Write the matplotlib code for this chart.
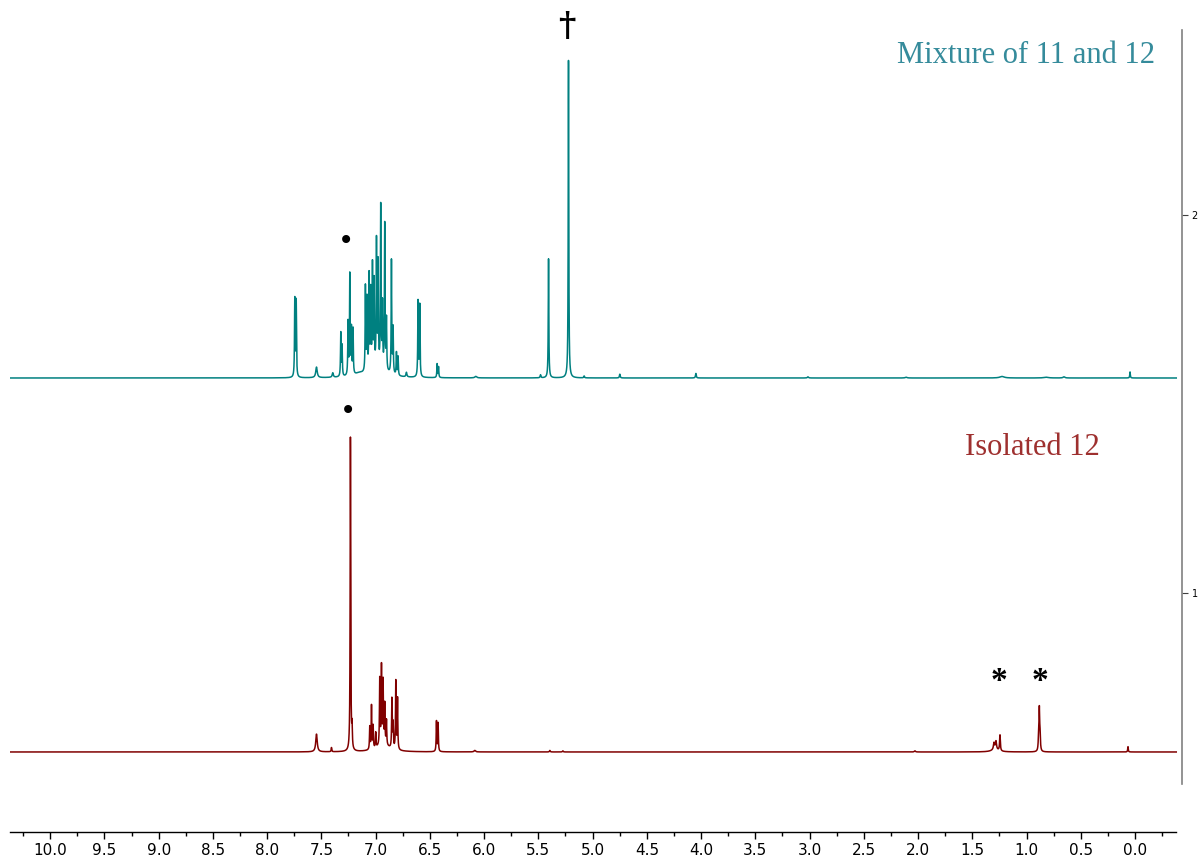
import numpy as np
import matplotlib
matplotlib.use("Agg")
import matplotlib.pyplot as plt
from matplotlib.ticker import MultipleLocator, FormatStrFormatter

# peak lists: chemical shift (ppm), height, half width (ppm)
mix_shift = [7.745, 7.732, 7.545, 7.395, 7.321, 7.309, 7.254, 7.238, 7.223, 7.208,
             7.094, 7.079, 7.060, 7.045, 7.029, 7.014, 6.992, 6.977, 6.953, 6.937,
             6.916, 6.900, 6.854, 6.839, 6.808, 6.793, 6.716, 6.609, 6.593, 6.433,
             6.420, 6.077, 5.480, 5.406, 5.222, 5.078, 4.749, 4.048, 3.015, 2.110,
             1.226, 0.820, 0.655, 0.046, 6.980, 7.150]
mix_height = [0.205, 0.200, 0.028, 0.012, 0.115, 0.080, 0.140, 0.265, 0.120, 0.120,
              0.225, 0.190, 0.250, 0.205, 0.270, 0.225, 0.330, 0.270, 0.425, 0.165,
              0.385, 0.135, 0.300, 0.120, 0.060, 0.050, 0.012, 0.200, 0.190, 0.036,
              0.028, 0.004, 0.008, 0.315, 0.840, 0.005, 0.010, 0.012, 0.003, 0.002,
              0.004, 0.002, 0.003, 0.016, 0.025, 0.008]
mix_width = [0.003, 0.003, 0.008, 0.006, 0.003, 0.003, 0.003, 0.003, 0.003, 0.003,
             0.003, 0.003, 0.003, 0.003, 0.003, 0.003, 0.003, 0.003, 0.003, 0.003,
             0.003, 0.003, 0.003, 0.003, 0.003, 0.003, 0.005, 0.003, 0.003, 0.003,
             0.003, 0.010, 0.004, 0.003, 0.003, 0.004, 0.004, 0.004, 0.006, 0.010,
             0.025, 0.025, 0.010, 0.003, 0.080, 0.050]

iso_shift = [7.545, 7.407, 7.232, 7.217, 7.054, 7.038, 7.023, 6.999, 6.962, 6.946,
             6.931, 6.916, 6.900, 6.850, 6.839, 6.814, 6.798, 6.439, 6.424, 6.086,
             5.394, 5.274, 2.029, 1.300, 1.282, 1.245, 0.888, 0.882, 0.876, 0.065,
             6.930, 1.290]
iso_height = [0.047, 0.011, 0.830, 0.055, 0.060, 0.115, 0.060, 0.040, 0.175, 0.205,
              0.165, 0.105, 0.065, 0.130, 0.065, 0.180, 0.135, 0.080, 0.075, 0.004,
              0.004, 0.003, 0.003, 0.018, 0.022, 0.042, 0.045, 0.095, 0.045, 0.014,
              0.018, 0.006]
iso_width = [0.008, 0.003, 0.003, 0.003, 0.003, 0.003, 0.003, 0.003, 0.003, 0.003,
             0.003, 0.003, 0.003, 0.003, 0.003, 0.003, 0.003, 0.003, 0.003, 0.008,
             0.004, 0.004, 0.006, 0.006, 0.006, 0.004, 0.004, 0.003, 0.004, 0.003,
             0.070, 0.040]

# vertical offsets of the two traces
mix_offset = 1.5688
iso_offset = 0.5794

ppm = np.linspace(10.37, -0.38, 80000)


def spectrum(shifts, heights, widths):
    y = np.zeros_like(ppm)
    for c, h, w in zip(shifts, heights, widths):
        y += h / (1 + ((ppm - c) / w) ** 2)
    return y


fig = plt.figure(figsize=(11.99, 8.58), dpi=100)
ax = fig.add_axes([10 / 1199, 26 / 858, 1172 / 1199, 832 / 858])

ax.plot(ppm, mix_offset + spectrum(mix_shift, mix_height, mix_width),
        color="#008080", lw=1.1)
ax.plot(ppm, iso_offset + spectrum(iso_shift, iso_height, iso_width),
        color="#800000", lw=1.1)

ax.set_xlim(10.37, -0.433)
ax.set_ylim(0.3677, 2.5688)

# spines: ppm axis at the bottom, intensity scale on the right
ax.spines["top"].set_visible(False)
ax.spines["left"].set_visible(False)
ax.spines["bottom"].set_bounds(10.37, -0.38)
ax.spines["right"].set_bounds(0.495, 2.489)
ax.spines["right"].set_color("#808080")
ax.spines["right"].set_linewidth(1.2)
ax.spines["bottom"].set_linewidth(1.0)

ax.xaxis.set_major_locator(MultipleLocator(0.5))
ax.xaxis.set_minor_locator(MultipleLocator(0.25))
ax.xaxis.set_major_formatter(FormatStrFormatter("%.1f"))
ax.tick_params(axis="x", which="major", length=5, width=1, labelsize=11, pad=3)
ax.tick_params(axis="x", which="minor", length=3, width=1)
for lbl in ax.get_xticklabels():
    lbl.set_family(["Liberation Sans Narrow", "DejaVu Sans"])

ax.yaxis.tick_right()
ax.set_yticks([1, 2])
ax.set_yticklabels(["1", "2"])
ax.tick_params(axis="y", length=4, width=0.8, labelsize=7, pad=3, color="#404040")

# labels for each trace
ax.text(-0.184, 2.423, "Mixture of 11 and 12", ha="right", va="center",
        fontsize=22, family="Liberation Serif", color="#358b9b")
ax.text(0.323, 1.386, "Isolated 12", ha="right", va="center",
        fontsize=22, family="Liberation Serif", color="#9e302f")

# peak markers
ax.text(7.275, 1.931, "\u2022", ha="center", va="center", fontsize=20, color="black")
ax.text(7.257, 1.481, "\u2022", ha="center", va="center", fontsize=20, color="black")
ax.text(5.237, 2.500, "\u2020", ha="center", va="center", fontsize=24,
        family="DejaVu Serif", fontweight="bold", color="black")
ax.text(1.254, 0.765, "*", ha="center", va="center", fontsize=24,
        family="Liberation Serif", fontweight="bold", color="black")
ax.text(0.876, 0.765, "*", ha="center", va="center", fontsize=24,
        family="Liberation Serif", fontweight="bold", color="black")

fig.savefig("out.png", dpi=100)
